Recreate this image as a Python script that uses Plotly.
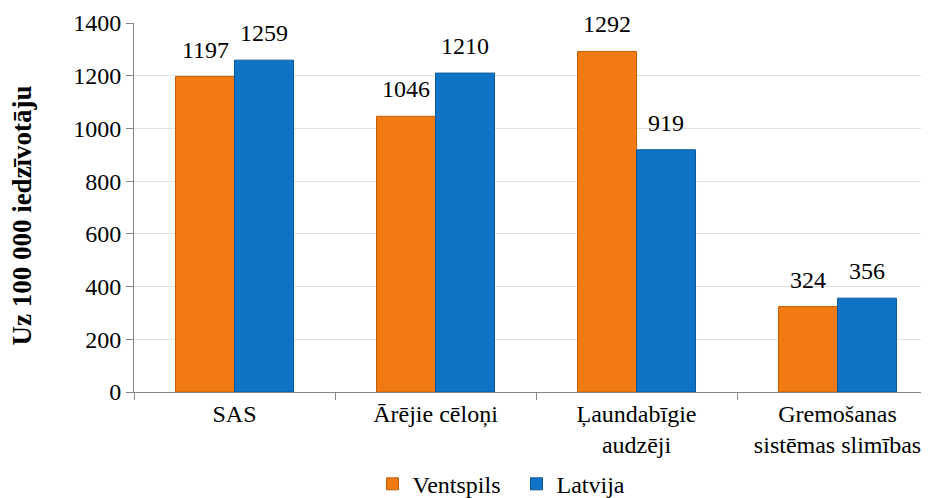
import plotly.graph_objects as go

categories = ["SAS", "Ārējie cēloņi", "Ļaundabīgie<br>audzēji", "Gremošanas<br>sistēmas slimības"]
ventspils = [1197, 1046, 1292, 324]
latvija = [1259, 1210, 919, 356]
series_names = ["Ventspils", "Latvija"]
y_ticks = [0, 200, 400, 600, 800, 1000, 1200, 1400]
y_title = "Uz 100 000 iedzīvotāju"

FONT = "Liberation Serif"
ORANGE = "#F27A13"
ORANGE_EDGE = "#C25E0A"
BLUE = "#0F74C6"
BLUE_EDGE = "#0A579A"

fig = go.Figure()
fig.add_trace(go.Bar(x=categories, y=ventspils, name=series_names[0],
                     marker=dict(color=ORANGE, line=dict(color=ORANGE_EDGE, width=1))))
fig.add_trace(go.Bar(x=categories, y=latvija, name=series_names[1],
                     marker=dict(color=BLUE, line=dict(color=BLUE_EDGE, width=1))))

bar_px = 29.5
for vals, shift in ((ventspils, -bar_px), (latvija, bar_px)):
    for c, v in zip(categories, vals):
        fig.add_annotation(x=c, y=v, xref="x", yref="y", text=str(v), showarrow=False,
                           xshift=shift, yshift=12, yanchor="bottom",
                           font=dict(family=FONT, size=24, color="#000000"))

# y-axis title (placed in paper coordinates to match the reference position)
fig.add_annotation(x=-0.1409, y=0.478, xref="paper", yref="paper", text="<b>" + y_title + "</b>",
                   textangle=-90, showarrow=False, xanchor="center", yanchor="middle",
                   font=dict(family=FONT, size=27, color="#000000"))

fig.update_layout(
    width=921, height=490,
    margin=dict(l=126, r=0, t=15, b=106, autoexpand=False),
    paper_bgcolor="white", plot_bgcolor="white",
    barmode="group", bargap=0.413, bargroupgap=0,
    font=dict(family=FONT, size=24, color="#000000"),
    showlegend=True,
    legend=dict(orientation="h", x=0.300, xanchor="left", y=-0.25, yanchor="middle",
                font=dict(family=FONT, size=24, color="#000000"), itemwidth=30,
                entrywidth=99, tracegroupgap=0),
    xaxis=dict(range=[-0.5, 3.455], showline=True, linecolor="#868686", linewidth=1,
               ticks="outside", tickson="boundaries", ticklen=7, tickcolor="#868686",
               showgrid=False, automargin=False,
               tickfont=dict(family=FONT, size=24, color="#000000")),
    yaxis=dict(range=[0, 1400], tickvals=y_ticks, showline=True, linecolor="#868686",
               linewidth=1, ticks="outside", ticklen=7, tickcolor="#868686",
               showgrid=True, gridcolor="#E0E0E0", gridwidth=1, zeroline=False,
               automargin=False,
               tickfont=dict(family=FONT, size=24, color="#000000")),
)

fig.write_html("out.html")
